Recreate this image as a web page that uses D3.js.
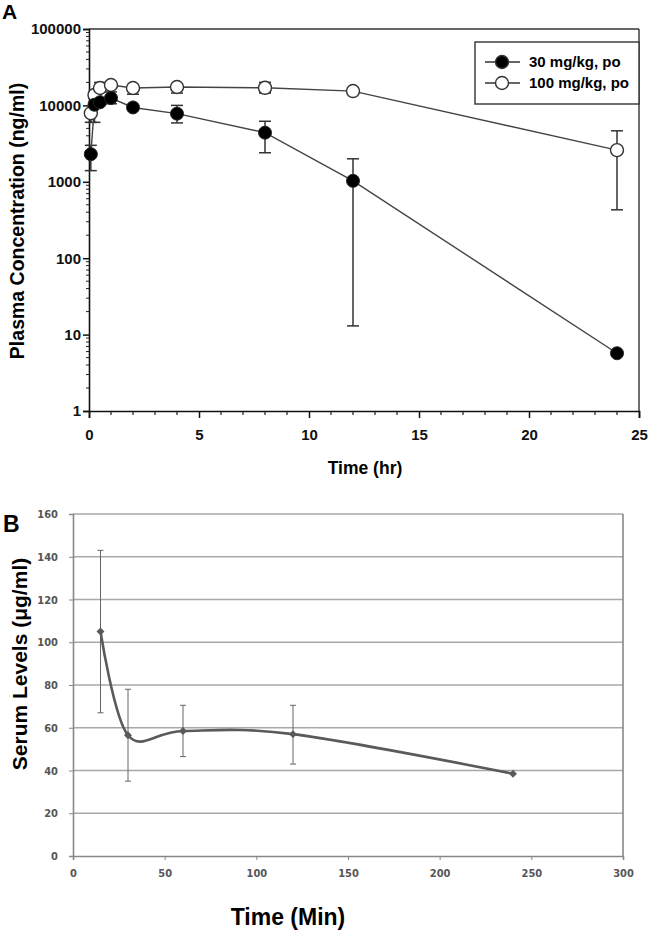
<!DOCTYPE html>
<html><head><meta charset="utf-8">
<script src="https://cdn.jsdelivr.net/npm/d3@7"></script>
<style>body{margin:0;background:#fff}svg{display:block;font-family:"Liberation Sans",Arial,sans-serif}</style>
</head><body><svg id="c" width="650" height="931"></svg>
<script>
// ---- Panel A data ----
const timesA = [0.083, 0.25, 0.5, 1, 2, 4, 8, 12, 24];
const low30  = [2300, 10200, 11000, 12500, 9400, 7800, 4400, 1030, 5.7];
const low30Lo = [1400, 6000, null, 10500, null, 5900, 2400, 13, null];
const low30Hi = [3000, null, null, 15000, null, 10000, 6200, 2000, null];
const high100 = [7900, 13700, 16900, 18500, 16900, 17400, 17000, 15400, 2600];
const high100Lo = [6000, null, null, null, 14000, 14500, 14500, null, 430];
const high100Hi = [null, null, 20000, 20500, null, null, 20000, null, 4650];
const yTicksA = [1, 10, 100, 1000, 10000, 100000];
const xTicksA = [0, 5, 10, 15, 20, 25];
const legendA = ["30 mg/kg, po", "100 mg/kg, po"];

// ---- Panel B data ----
const timesB = [15, 30, 60, 120, 240];
const serum = [105, 56.5, 58.5, 57, 38.5];
const serumLo = [67, 35, 46.5, 43, null];
const serumHi = [143, 78, 70.5, 70.5, null];
const yTicksB = [0, 20, 40, 60, 80, 100, 120, 140, 160];
const xTicksB = [0, 50, 100, 150, 200, 250, 300];

const svg = d3.select("#c");

// ================= Panel A =================
const A = {l: 89, r: 639, t: 29, b: 411};
const xA = d3.scaleLinear().domain([0, 25]).range([A.l, A.r]);
const yA = d3.scaleLog().domain([1, 100000]).range([A.b, A.t]);

svg.append("text").attr("x", 2).attr("y", 19).attr("font-size", 21).attr("font-weight", "bold").text("A");

svg.append("line").attr("x1", A.l).attr("x2", A.r).attr("y1", A.t).attr("y2", A.t).attr("stroke", "#333").attr("stroke-width", 1.4);
svg.append("line").attr("x1", A.r).attr("x2", A.r).attr("y1", A.t).attr("y2", A.b).attr("stroke", "#333").attr("stroke-width", 1.4);

const minorY = [];
for (let d = 1; d < 100000; d *= 10) for (let k = 2; k <= 9; k++) minorY.push(d * k);
const gYA = svg.append("g").attr("transform", `translate(${A.l},0)`);
gYA.selectAll(".mn").data(minorY).join("line").attr("x1", -3).attr("x2", 0)
  .attr("y1", d => yA(d)).attr("y2", d => yA(d)).attr("stroke", "#222").attr("stroke-width", 1);
gYA.call(d3.axisLeft(yA).tickValues(yTicksA).tickFormat(d3.format("d")).tickSize(6).tickPadding(2));
gYA.select(".domain").attr("stroke", "#111").attr("stroke-width", 1.6);
gYA.selectAll(".tick line").attr("stroke", "#111").attr("stroke-width", 1.5);
gYA.selectAll(".tick text").attr("font-size", 15).attr("font-weight", "bold").attr("fill", "#111")
  .attr("font-family", "Liberation Sans, Arial, sans-serif");

const minorX = d3.range(0, 26).filter(d => d % 5 !== 0);
const gXA = svg.append("g").attr("transform", `translate(0,${A.b})`);
gXA.selectAll(".mn").data(minorX).join("line").attr("x1", d => xA(d)).attr("x2", d => xA(d))
  .attr("y1", 0).attr("y2", 4).attr("stroke", "#222").attr("stroke-width", 1.2);
gXA.call(d3.axisBottom(xA).tickValues(xTicksA).tickSize(7).tickPadding(11));
gXA.select(".domain").attr("stroke", "#111").attr("stroke-width", 1.6);
gXA.selectAll(".tick line").attr("stroke", "#111").attr("stroke-width", 1.5);
gXA.selectAll(".tick text").attr("font-size", 15).attr("font-weight", "bold").attr("fill", "#111")
  .attr("font-family", "Liberation Sans, Arial, sans-serif");

svg.append("text").attr("x", 365).attr("y", 474).attr("text-anchor", "middle").attr("font-size", 17.5)
  .attr("font-weight", "bold").text("Time (hr)");
svg.append("text").attr("transform", "translate(24,221) rotate(-90)").attr("text-anchor", "middle")
  .attr("font-size", 19.5).attr("font-weight", "bold").text("Plasma Concentration (ng/ml)");

function errBars(g, xs, ys, lo, hi, xS, yS, cap, color, w) {
  xs.forEach((t, i) => {
    const x = xS(t);
    [lo[i], hi[i]].forEach(v => {
      if (v == null) return;
      g.append("line").attr("x1", x).attr("x2", x).attr("y1", yS(ys[i])).attr("y2", yS(v))
        .attr("stroke", color).attr("stroke-width", w);
      g.append("line").attr("x1", x - cap).attr("x2", x + cap).attr("y1", yS(v)).attr("y2", yS(v))
        .attr("stroke", color).attr("stroke-width", w);
    });
  });
}

const gA = svg.append("g");
const lineA = d3.line().x(d => xA(d[0])).y(d => yA(d[1]));
const ptsHigh = timesA.map((t, i) => [t, high100[i]]);
const ptsLow = timesA.map((t, i) => [t, low30[i]]);
errBars(gA, timesA, high100, high100Lo, high100Hi, xA, yA, 6, "#333", 1.5);
errBars(gA, timesA, low30, low30Lo, low30Hi, xA, yA, 6, "#333", 1.5);
gA.append("path").attr("d", lineA(ptsHigh)).attr("fill", "none").attr("stroke", "#444").attr("stroke-width", 1.4);
gA.append("path").attr("d", lineA(ptsLow)).attr("fill", "none").attr("stroke", "#444").attr("stroke-width", 1.4);
gA.selectAll(".o").data(ptsHigh).join("circle").attr("cx", d => xA(d[0])).attr("cy", d => yA(d[1]))
  .attr("r", 6.5).attr("fill", "#fff").attr("stroke", "#333").attr("stroke-width", 1.4);
gA.selectAll(".f").data(ptsLow).join("circle").attr("cx", d => xA(d[0])).attr("cy", d => yA(d[1]))
  .attr("r", 6.5).attr("fill", "#000").attr("stroke", "#222").attr("stroke-width", 1);

const lg = svg.append("g");
lg.append("rect").attr("x", 475).attr("y", 42).attr("width", 164).attr("height", 62)
  .attr("fill", "#fff").attr("stroke", "#333").attr("stroke-width", 1.4);
legendA.forEach((s, i) => {
  const y = 62 + i * 21;
  lg.append("line").attr("x1", 485).attr("x2", 520).attr("y1", y).attr("y2", y).attr("stroke", "#333").attr("stroke-width", 1.4);
  lg.append("circle").attr("cx", 502).attr("cy", y).attr("r", 6.5)
    .attr("fill", i === 0 ? "#000" : "#fff").attr("stroke", "#333").attr("stroke-width", 1.4);
  lg.append("text").attr("x", 529).attr("y", y + 5).attr("font-size", 15).attr("font-weight", "bold").text(s);
});

// ================= Panel B =================
const B = {l: 73, r: 623, t: 514, b: 856};
const xB = d3.scaleLinear().domain([0, 300]).range([B.l, B.r]);
const yB = d3.scaleLinear().domain([0, 160]).range([B.b, B.t]);

svg.append("text").attr("x", 3).attr("y", 532).attr("font-size", 23).attr("font-weight", "bold").text("B");

const gB = svg.append("g");
gB.selectAll(".grid").data(yTicksB.filter(d => d > 0)).join("line")
  .attr("x1", B.l).attr("x2", B.r).attr("y1", d => yB(d)).attr("y2", d => yB(d))
  .attr("stroke", "#a8a8a8").attr("stroke-width", 1.5);
gB.append("line").attr("x1", B.r).attr("x2", B.r).attr("y1", B.t).attr("y2", B.b).attr("stroke", "#888").attr("stroke-width", 1.6);

const gYB = svg.append("g").attr("transform", `translate(${B.l},0)`);
gYB.call(d3.axisLeft(yB).tickValues(yTicksB).tickSize(4).tickPadding(11));
gYB.select(".domain").attr("stroke", "#888").attr("stroke-width", 1.6);
gYB.selectAll(".tick line").attr("stroke", "#888");
gYB.selectAll(".tick text").attr("font-size", 11).attr("fill", "#555").attr("font-weight", "bold")
  .attr("font-family", "DejaVu Sans Condensed, DejaVu Sans, sans-serif");

const gXB = svg.append("g").attr("transform", `translate(0,${B.b})`);
gXB.call(d3.axisBottom(xB).tickValues(xTicksB).tickSize(4).tickPadding(9));
gXB.select(".domain").attr("stroke", "#888").attr("stroke-width", 1.6);
gXB.selectAll(".tick line").attr("stroke", "#888");
gXB.selectAll(".tick text").attr("font-size", 11).attr("fill", "#555").attr("font-weight", "bold")
  .attr("font-family", "DejaVu Sans Condensed, DejaVu Sans, sans-serif");

svg.append("text").attr("x", 288).attr("y", 925).attr("text-anchor", "middle").attr("font-size", 23)
  .attr("font-weight", "bold").text("Time (Min)");
svg.append("text").attr("transform", "translate(27,664) rotate(-90)").attr("text-anchor", "middle")
  .attr("font-size", 21).attr("font-weight", "bold").text("Serum Levels (μg/ml)");

const gBd = svg.append("g");
errBars(gBd, timesB, serum, serumLo, serumHi, xB, yB, 3, "#666", 1);
const ptsB = timesB.map((t, i) => [t, serum[i]]);
gBd.append("path").attr("d", d3.line().curve(d3.curveCardinal.tension(0)).x(d => xB(d[0])).y(d => yB(d[1]))(ptsB))
  .attr("fill", "none").attr("stroke", "#5a5a5a").attr("stroke-width", 2.6);
gBd.selectAll(".m").data(ptsB).join("path")
  .attr("d", d3.symbol(d3.symbolDiamond2, 40)())
  .attr("transform", d => `translate(${xB(d[0])},${yB(d[1])})`).attr("fill", "#5a5a5a");
</script></body></html>
